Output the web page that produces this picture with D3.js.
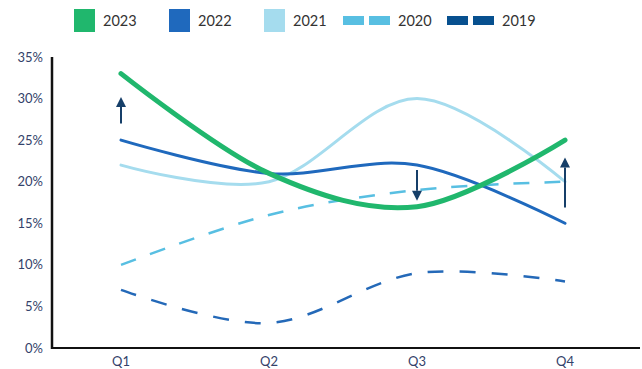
<!DOCTYPE html>
<html>
<head>
<meta charset="utf-8">
<script src="https://cdn.jsdelivr.net/npm/d3@7"></script>
<style>
  body { margin: 0; background: #fff; }
  svg { display: block; font-family: Lato, "DejaVu Sans", sans-serif; }
</style>
</head>
<body>
<svg id="chart"></svg>
<script>
// chart data
const quarters = ['Q1', 'Q2', 'Q3', 'Q4'];
const years = ['2023', '2022', '2021', '2020', '2019'];
const values2023 = [33, 21, 17, 25];
const values2022 = [25, 21, 22, 15];
const values2021 = [22, 20, 30, 20];
const values2020 = [10, 16, 19, 20];
const values2019 = [7, 3, 9, 8];
const yTicks = [0, 5, 10, 15, 20, 25, 30, 35];
// annotation arrows: quarter, start value, end value (%)
const arrows = [
    { q: 'Q1', from: 27.0, to: 30.2 },
    { q: 'Q3', from: 21.4, to: 17.7 },
    { q: 'Q4', from: 16.9, to: 22.9 }
];

const series = [
    { name: '2023', values: values2023, color: '#20b76d', width: 5, dash: null },
    { name: '2022', values: values2022, color: '#1f69bd', width: 3, dash: null },
    { name: '2021', values: values2021, color: '#a5dcee', width: 3, dash: null },
    { name: '2020', values: values2020, color: '#58bfe2', width: 2.5, dash: '16,15' },
    { name: '2019', values: values2019, color: '#2469b8', width: 2.5, dash: '16,16' }
];
const legendColors = { '2019': '#07508f' };

const width = 642, height = 369;
const svg = d3.select('#chart').attr('width', width).attr('height', height);

const x = d3.scalePoint().domain(quarters).range([121, 565]);
const y = d3.scaleLinear().domain([0, 35]).range([348, 57]);

// y tick labels
svg.append('g')
    .selectAll('text')
    .data(yTicks)
    .enter().append('text')
    .attr('x', 43)
    .attr('y', d => y(d))
    .attr('dy', '0.35em')
    .attr('text-anchor', 'end')
    .attr('font-size', 13)
    .attr('fill', '#33426a')
    .text(d => d + '%');

// x tick labels
svg.append('g')
    .selectAll('text')
    .data(quarters)
    .enter().append('text')
    .attr('x', d => x(d))
    .attr('y', 361)
    .attr('dy', '0.35em')
    .attr('text-anchor', 'middle')
    .attr('font-size', 13)
    .attr('fill', '#33426a')
    .text(d => d);

// lines (draw older years first so 2023 sits on top)
const line = d3.line()
    .x((d, i) => x(quarters[i]))
    .y(d => y(d))
    .curve(d3.curveCardinal.tension(0));

svg.append('g')
    .selectAll('path')
    .data(series.slice().reverse())
    .enter().append('path')
    .attr('d', d => line(d.values))
    .attr('fill', 'none')
    .attr('stroke', d => d.color)
    .attr('stroke-width', d => d.width)
    .attr('stroke-dasharray', d => d.dash)
    .attr('stroke-linecap', d => d.dash ? 'butt' : 'round');

// axes
svg.append('line')
    .attr('x1', 52).attr('x2', 52)
    .attr('y1', 57).attr('y2', 349)
    .attr('stroke', '#111').attr('stroke-width', 2.5);
svg.append('line')
    .attr('x1', 51).attr('x2', 640)
    .attr('y1', y(0)).attr('y2', y(0))
    .attr('stroke', '#111').attr('stroke-width', 2);

// arrows
const arrowColor = '#163f69';
const ag = svg.append('g');
arrows.forEach(a => {
    const ax = x(a.q);
    const y0 = y(a.from), y1 = y(a.to);
    const dir = y1 < y0 ? 1 : -1;
    const base = y1 + dir * 10;
    ag.append('line')
        .attr('x1', ax).attr('x2', ax)
        .attr('y1', y0).attr('y2', base)
        .attr('stroke', arrowColor).attr('stroke-width', 2);
    ag.append('path')
        .attr('d', `M${ax - 5},${base}L${ax + 5},${base}L${ax},${y1}Z`)
        .attr('fill', arrowColor);
});

// legend
const legendX = [74, 169, 264, 343, 447];
const lg = svg.append('g');
series.forEach((s, i) => {
    const lx = legendX[i];
    const col = legendColors[s.name] || s.color;
    let tx;
    if (s.dash) {
        lg.append('rect').attr('x', lx).attr('y', 16).attr('width', 21).attr('height', 9).attr('fill', col);
        lg.append('rect').attr('x', lx + 26).attr('y', 16).attr('width', 21).attr('height', 9).attr('fill', col);
        tx = lx + 55;
    } else {
        lg.append('rect').attr('x', lx).attr('y', 9).attr('width', 21).attr('height', 23).attr('fill', col);
        tx = lx + 29;
    }
    lg.append('text')
        .attr('x', tx)
        .attr('y', 21)
        .attr('dy', '0.35em')
        .attr('font-size', 14.5)
        .attr('fill', '#333')
        .text(s.name);
});
</script>
</body>
</html>
